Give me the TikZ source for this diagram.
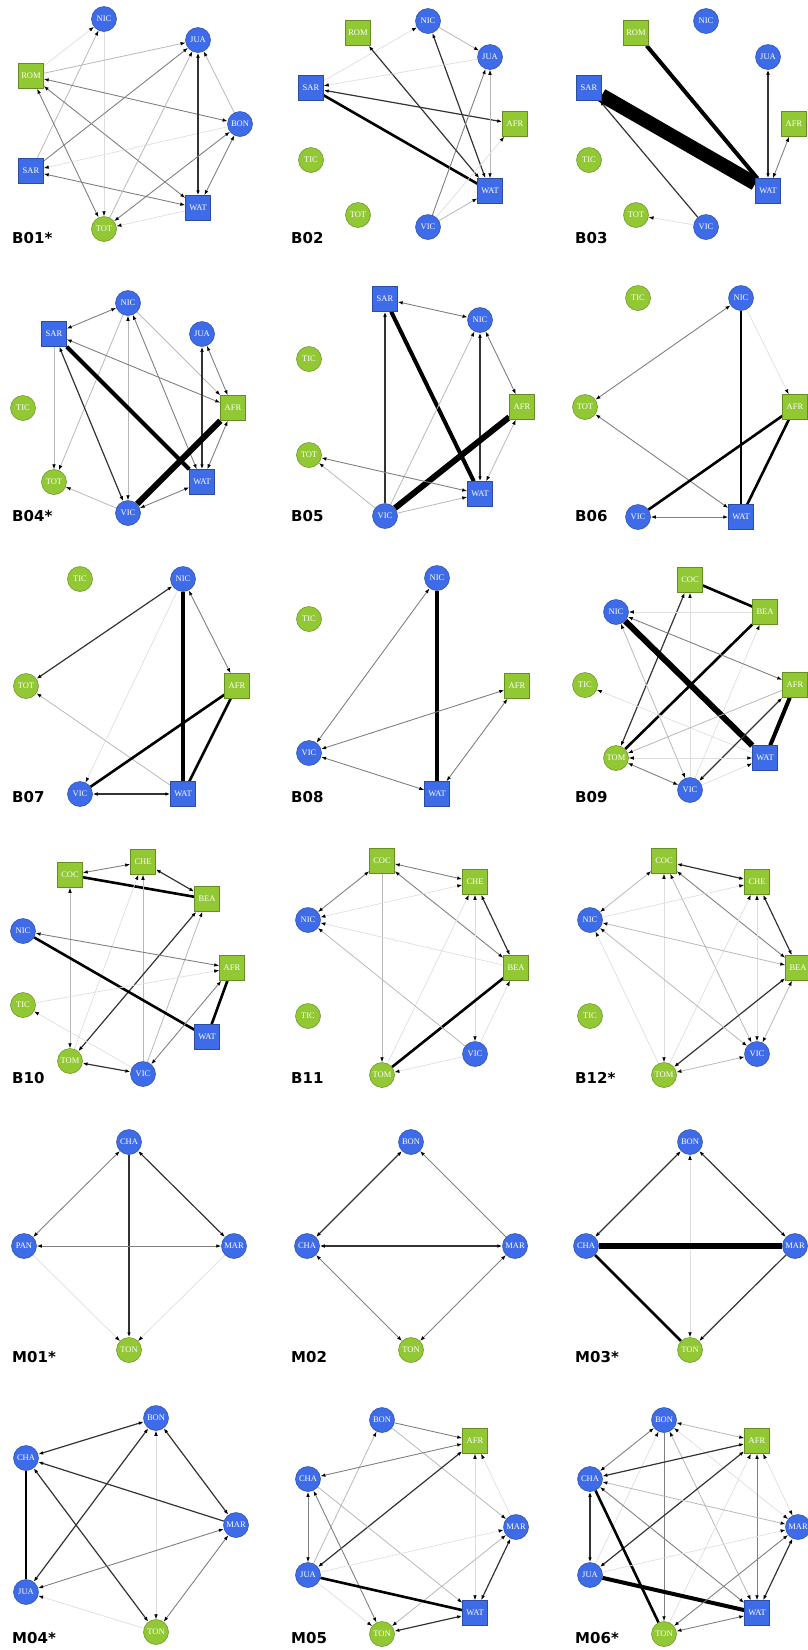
\documentclass[tikz,border=0pt]{standalone}
\usepackage{fontspec}
\newfontfamily\nodefont{Liberation Serif}
\newfontfamily\labfont{DejaVu Sans}
\usetikzlibrary{arrows.meta,backgrounds}
\definecolor{nodeblue}{RGB}{62,108,232}
\definecolor{nodegreen}{RGB}{146,200,52}

\begin{document}
\begin{tikzpicture}[
  x=1pt, y=-1pt,
  >={Latex[length=5pt,width=3.6pt,color=black]},
  vtx/.style={minimum size=25pt, inner sep=0pt, text=white, line width=0.5pt, font=\nodefont\fontsize{8.5}{9}\selectfont},
  bluc/.style={vtx, circle, fill=nodeblue, draw=nodeblue!70!black},
  grnc/.style={vtx, circle, fill=nodegreen, draw=nodegreen!70!black},
  blus/.style={vtx, rectangle, fill=nodeblue, draw=nodeblue!70!black},
  grns/.style={vtx, rectangle, fill=nodegreen, draw=nodegreen!70!black},
  lab/.style={anchor=west, inner sep=0pt, font=\labfont\bfseries\fontsize{15}{15}\selectfont},
  e0/.style={draw=black!13, line width=0.7pt},
  e1/.style={draw=black!28, line width=0.8pt},
  e2/.style={draw=black!50, line width=0.9pt},
  e3/.style={draw=black!80, line width=1.2pt},
  e4/.style={draw=black, line width=2.6pt},
  e5/.style={draw=black, line width=4pt},
  e6/.style={draw=black, line width=6pt},
  e7/.style={draw=black, line width=14pt},
]
  \useasboundingbox (0,0) rectangle (807,1650);

  % Panel labels
  \node[lab] (t01) at (12,238) {B01*};
  \node[lab] (t02) at (291,238) {B02};
  \node[lab] (t03) at (575,238) {B03};
  \node[lab] (t04) at (12,516) {B04*};
  \node[lab] (t05) at (291,516) {B05};
  \node[lab] (t06) at (575,516) {B06};
  \node[lab] (t07) at (12,797) {B07};
  \node[lab] (t08) at (291,797) {B08};
  \node[lab] (t09) at (575,797) {B09};
  \node[lab] (t10) at (12,1078) {B10};
  \node[lab] (t11) at (291,1078) {B11};
  \node[lab] (t12) at (575,1078) {B12*};
  \node[lab] (t13) at (12,1357) {M01*};
  \node[lab] (t14) at (291,1357) {M02};
  \node[lab] (t15) at (575,1357) {M03*};
  \node[lab] (t16) at (12,1638) {M04*};
  \node[lab] (t17) at (291,1638) {M05};
  \node[lab] (t18) at (575,1638) {M06*};

  % B01
  \node[bluc] (b01nic) at (104,19) {NIC};
  \node[bluc] (b01jua) at (198,40) {JUA};
  \node[grns] (b01rom) at (31,76) {ROM};
  \node[bluc] (b01bon) at (240,124) {BON};
  \node[blus] (b01sar) at (31,171) {SAR};
  \node[blus] (b01wat) at (198,208) {WAT};
  \node[grnc] (b01tot) at (104,229) {TOT};
  % B02
  \node[grns] (b02rom) at (358,33) {ROM};
  \node[bluc] (b02nic) at (428,21) {NIC};
  \node[bluc] (b02jua) at (490,57) {JUA};
  \node[blus] (b02sar) at (311,88) {SAR};
  \node[grns] (b02afr) at (515,124) {AFR};
  \node[grnc] (b02tic) at (311,160) {TIC};
  \node[grnc] (b02tot) at (358,215) {TOT};
  \node[bluc] (b02vic) at (428,227) {VIC};
  \node[blus] (b02wat) at (490,191) {WAT};
  % B03
  \node[grns] (b03rom) at (636,33) {ROM};
  \node[bluc] (b03nic) at (706,21) {NIC};
  \node[bluc] (b03jua) at (768,57) {JUA};
  \node[blus] (b03sar) at (589,88) {SAR};
  \node[grns] (b03afr) at (794,124) {AFR};
  \node[grnc] (b03tic) at (589,160) {TIC};
  \node[grnc] (b03tot) at (636,215) {TOT};
  \node[bluc] (b03vic) at (706,227) {VIC};
  \node[blus] (b03wat) at (768,191) {WAT};
  % B04
  \node[bluc] (b04nic) at (128,303) {NIC};
  \node[blus] (b04sar) at (54,334) {SAR};
  \node[bluc] (b04jua) at (202,334) {JUA};
  \node[grnc] (b04tic) at (23,408) {TIC};
  \node[grns] (b04afr) at (233,408) {AFR};
  \node[grnc] (b04tot) at (54,482) {TOT};
  \node[blus] (b04wat) at (202,482) {WAT};
  \node[bluc] (b04vic) at (128,513) {VIC};
  % B05
  \node[blus] (b05sar) at (385,299) {SAR};
  \node[bluc] (b05nic) at (480,320) {NIC};
  \node[grnc] (b05tic) at (309,359) {TIC};
  \node[grns] (b05afr) at (522,407) {AFR};
  \node[grnc] (b05tot) at (309,455) {TOT};
  \node[blus] (b05wat) at (480,494) {WAT};
  \node[bluc] (b05vic) at (385,516) {VIC};
  % B06
  \node[grnc] (b06tic) at (638,298) {TIC};
  \node[bluc] (b06nic) at (741,298) {NIC};
  \node[grnc] (b06tot) at (585,407) {TOT};
  \node[grns] (b06afr) at (795,407) {AFR};
  \node[bluc] (b06vic) at (638,517) {VIC};
  \node[blus] (b06wat) at (741,517) {WAT};
  % B07
  \node[grnc] (b07tic) at (80,579) {TIC};
  \node[bluc] (b07nic) at (183,579) {NIC};
  \node[grnc] (b07tot) at (26,686) {TOT};
  \node[grns] (b07afr) at (237,686) {AFR};
  \node[bluc] (b07vic) at (80,794) {VIC};
  \node[blus] (b07wat) at (183,794) {WAT};
  % B08
  \node[bluc] (b08nic) at (437,578) {NIC};
  \node[grnc] (b08tic) at (309,619) {TIC};
  \node[grns] (b08afr) at (517,686) {AFR};
  \node[bluc] (b08vic) at (309,753) {VIC};
  \node[blus] (b08wat) at (437,794) {WAT};
  % B09
  \node[grns] (b09coc) at (690,580) {COC};
  \node[grns] (b09bea) at (765,612) {BEA};
  \node[bluc] (b09nic) at (616,612) {NIC};
  \node[grnc] (b09tic) at (585,685) {TIC};
  \node[grns] (b09afr) at (795,685) {AFR};
  \node[grnc] (b09tom) at (616,758) {TOM};
  \node[blus] (b09wat) at (765,758) {WAT};
  \node[bluc] (b09vic) at (690,790) {VIC};
  % B10
  \node[grns] (b10che) at (143,862) {CHE};
  \node[grns] (b10coc) at (70,875) {COC};
  \node[grns] (b10bea) at (207,899) {BEA};
  \node[bluc] (b10nic) at (23,931) {NIC};
  \node[grns] (b10afr) at (232,968) {AFR};
  \node[grnc] (b10tic) at (23,1005) {TIC};
  \node[blus] (b10wat) at (207,1037) {WAT};
  \node[grnc] (b10tom) at (70,1061) {TOM};
  \node[bluc] (b10vic) at (143,1074) {VIC};
  % B11
  \node[grns] (b11coc) at (382,861) {COC};
  \node[grns] (b11che) at (475,882) {CHE};
  \node[bluc] (b11nic) at (308,920) {NIC};
  \node[grns] (b11bea) at (516,968) {BEA};
  \node[grnc] (b11tic) at (308,1016) {TIC};
  \node[bluc] (b11vic) at (475,1054) {VIC};
  \node[grnc] (b11tom) at (382,1075) {TOM};
  % B12
  \node[grns] (b12coc) at (664,861) {COC};
  \node[grns] (b12che) at (757,882) {CHE};
  \node[bluc] (b12nic) at (590,920) {NIC};
  \node[grns] (b12bea) at (798,968) {BEA};
  \node[grnc] (b12tic) at (590,1016) {TIC};
  \node[bluc] (b12vic) at (757,1054) {VIC};
  \node[grnc] (b12tom) at (664,1075) {TOM};
  % M01
  \node[bluc] (m01cha) at (129,1142) {CHA};
  \node[bluc] (m01pan) at (24,1246) {PAN};
  \node[bluc] (m01mar) at (234,1246) {MAR};
  \node[grnc] (m01ton) at (129,1350) {TON};
  % M02
  \node[bluc] (m02bon) at (411,1142) {BON};
  \node[bluc] (m02cha) at (307,1246) {CHA};
  \node[bluc] (m02mar) at (515,1246) {MAR};
  \node[grnc] (m02ton) at (411,1350) {TON};
  % M03
  \node[bluc] (m03bon) at (690,1142) {BON};
  \node[bluc] (m03cha) at (586,1246) {CHA};
  \node[bluc] (m03mar) at (795,1246) {MAR};
  \node[grnc] (m03ton) at (690,1350) {TON};
  % M04
  \node[bluc] (m04bon) at (156,1418) {BON};
  \node[bluc] (m04cha) at (26,1458) {CHA};
  \node[bluc] (m04mar) at (236,1525) {MAR};
  \node[bluc] (m04jua) at (26,1592) {JUA};
  \node[grnc] (m04ton) at (156,1632) {TON};
  % M05
  \node[bluc] (m05bon) at (382,1420) {BON};
  \node[grns] (m05afr) at (475,1441) {AFR};
  \node[bluc] (m05cha) at (308,1479) {CHA};
  \node[bluc] (m05mar) at (516,1527) {MAR};
  \node[bluc] (m05jua) at (308,1575) {JUA};
  \node[blus] (m05wat) at (475,1613) {WAT};
  \node[grnc] (m05ton) at (382,1634) {TON};
  % M06
  \node[bluc] (m06bon) at (664,1420) {BON};
  \node[grns] (m06afr) at (757,1441) {AFR};
  \node[bluc] (m06cha) at (590,1479) {CHA};
  \node[bluc] (m06mar) at (798,1527) {MAR};
  \node[bluc] (m06jua) at (590,1575) {JUA};
  \node[blus] (m06wat) at (757,1613) {WAT};
  \node[grnc] (m06ton) at (664,1634) {TON};

  \begin{scope}[on background layer]
  % B01 edges
  \draw[e0,->] (b01rom) -- (b01nic);
  \draw[e1,->] (b01sar) -- (b01nic);
  \draw[e0,->] (b01nic) -- (b01tot);
  \draw[e1,->] (b01rom) -- (b01jua);
  \draw[e2,<->] (b01rom) -- (b01bon);
  \draw[e2,<->] (b01rom) -- (b01wat);
  \draw[e2,<->] (b01rom) -- (b01tot);
  \draw[e2,->] (b01sar) -- (b01jua);
  \draw[e2,<->] (b01sar) -- (b01wat);
  \draw[e0,->] (b01bon) -- (b01sar);
  \draw[e3,<->] (b01jua) -- (b01wat);
  \draw[e1,->] (b01bon) -- (b01jua);
  \draw[e1,->] (b01tot) -- (b01jua);
  \draw[e2,<->] (b01bon) -- (b01tot);
  \draw[e2,<->] (b01bon) -- (b01wat);
  \draw[e0,->] (b01wat) -- (b01tot);
  % B02 edges
  \draw[e0,->] (b02sar) -- (b02nic);
  \draw[e1,->] (b02nic) -- (b02jua);
  \draw[e3,<->] (b02rom) -- (b02wat);
  \draw[e3,<->] (b02nic) -- (b02wat);
  \draw[e0,->] (b02jua) -- (b02sar);
  \draw[e3,<->] (b02sar) -- (b02afr);
  \draw[e4] (b02sar) -- (b02wat);
  \draw[e1,<->] (b02jua) -- (b02wat);
  \draw[e2,->] (b02vic) -- (b02jua);
  \draw[e0,->] (b02vic) -- (b02afr);
  \draw[e1,->] (b02vic) -- (b02wat);
  % B03 edges
  \draw[e5] (b03rom) -- (b03wat);
  \draw[e7] (b03sar) -- (b03wat);
  \draw[e3,<->] (b03jua) -- (b03wat);
  \draw[e2,<->] (b03afr) -- (b03wat);
  \draw[e3,->] (b03vic) -- (b03sar);
  \draw[e0,->] (b03vic) -- (b03tot);
  % B04 edges
  \draw[e2,<->] (b04nic) -- (b04sar);
  \draw[e1,->] (b04nic) -- (b04tot);
  \draw[e1,<->] (b04nic) -- (b04vic);
  \draw[e2,<->] (b04nic) -- (b04wat);
  \draw[e1,->] (b04nic) -- (b04afr);
  \draw[e1,->] (b04sar) -- (b04tot);
  \draw[e3,<->] (b04sar) -- (b04vic);
  \draw[e5] (b04sar) -- (b04wat);
  \draw[e2,<->] (b04sar) -- (b04afr);
  \draw[e3,<->] (b04jua) -- (b04wat);
  \draw[e2,<->] (b04jua) -- (b04afr);
  \draw[e6] (b04afr) -- (b04vic);
  \draw[e2,<->] (b04afr) -- (b04wat);
  \draw[e2,<->] (b04vic) -- (b04wat);
  \draw[e1,->] (b04vic) -- (b04tot);
  % B05 edges
  \draw[e2,<->] (b05sar) -- (b05nic);
  \draw[e3,->] (b05vic) -- (b05sar);
  \draw[e5] (b05sar) -- (b05wat);
  \draw[e1,->] (b05vic) -- (b05nic);
  \draw[e3,<->] (b05nic) -- (b05wat);
  \draw[e2,<->] (b05nic) -- (b05afr);
  \draw[e6] (b05afr) -- (b05vic);
  \draw[e1,<->] (b05afr) -- (b05wat);
  \draw[e1,->] (b05vic) -- (b05tot);
  \draw[e2,<->] (b05wat) -- (b05tot);
  \draw[e1,->] (b05vic) -- (b05wat);
  % B06 edges
  \draw[e2,<->] (b06nic) -- (b06tot);
  \draw[e4] (b06nic) -- (b06wat);
  \draw[e0,->] (b06nic) -- (b06afr);
  \draw[e2,<->] (b06tot) -- (b06wat);
  \draw[e4] (b06afr) -- (b06vic);
  \draw[e4] (b06wat) -- (b06afr);
  \draw[e2,<->] (b06vic) -- (b06wat);
  % B07 edges
  \draw[e3,<->] (b07nic) -- (b07tot);
  \draw[e0,->] (b07nic) -- (b07vic);
  \draw[e5] (b07nic) -- (b07wat);
  \draw[e2,<->] (b07nic) -- (b07afr);
  \draw[e1,->] (b07wat) -- (b07tot);
  \draw[e4] (b07afr) -- (b07vic);
  \draw[e4] (b07afr) -- (b07wat);
  \draw[e3,<->] (b07vic) -- (b07wat);
  % B08 edges
  \draw[e2,<->] (b08vic) -- (b08nic);
  \draw[e5] (b08nic) -- (b08wat);
  \draw[e2,<->] (b08afr) -- (b08vic);
  \draw[e2,<->] (b08afr) -- (b08wat);
  \draw[e2,<->] (b08vic) -- (b08wat);
  % B09 edges
  \draw[e4] (b09coc) -- (b09bea);
  \draw[e3,<->] (b09coc) -- (b09tom);
  \draw[e0,->] (b09vic) -- (b09coc);
  \draw[e0,->] (b09bea) -- (b09nic);
  \draw[e4] (b09bea) -- (b09tom);
  \draw[e0,->] (b09vic) -- (b09bea);
  \draw[e6] (b09nic) -- (b09wat);
  \draw[e2,<->] (b09nic) -- (b09afr);
  \draw[e1,<->] (b09nic) -- (b09vic);
  \draw[e0,->] (b09wat) -- (b09tic);
  \draw[e1,->] (b09afr) -- (b09tom);
  \draw[e3,<->] (b09afr) -- (b09vic);
  \draw[e5] (b09afr) -- (b09wat);
  \draw[e0,<->] (b09tom) -- (b09wat);
  \draw[e2,<->] (b09tom) -- (b09vic);
  \draw[e0,->] (b09vic) -- (b09wat);
  % B10 edges
  \draw[e2,<->] (b10coc) -- (b10che);
  \draw[e4] (b10bea) -- (b10coc);
  \draw[e1,<->] (b10coc) -- (b10tom);
  \draw[e3,<->] (b10che) -- (b10bea);
  \draw[e0,->] (b10tom) -- (b10che);
  \draw[e1,->] (b10vic) -- (b10che);
  \draw[e3,<->] (b10bea) -- (b10tom);
  \draw[e1,->] (b10vic) -- (b10bea);
  \draw[e2,<->] (b10nic) -- (b10afr);
  \draw[e4] (b10nic) -- (b10wat);
  \draw[e0,->] (b10tic) -- (b10afr);
  \draw[e0,->] (b10vic) -- (b10tic);
  \draw[e4] (b10wat) -- (b10afr);
  \draw[e2,<->] (b10afr) -- (b10vic);
  \draw[e3,<->] (b10tom) -- (b10vic);
  % B11 edges
  \draw[e2,<->] (b11coc) -- (b11nic);
  \draw[e2,<->] (b11coc) -- (b11che);
  \draw[e2,<->] (b11coc) -- (b11bea);
  \draw[e1,->] (b11coc) -- (b11tom);
  \draw[e0,<->] (b11nic) -- (b11che);
  \draw[e3,<->] (b11che) -- (b11bea);
  \draw[e0,->] (b11tom) -- (b11che);
  \draw[e0,<->] (b11che) -- (b11vic);
  \draw[e0,->] (b11bea) -- (b11nic);
  \draw[e4] (b11bea) -- (b11tom);
  \draw[e0,->] (b11vic) -- (b11bea);
  \draw[e1,->] (b11vic) -- (b11nic);
  \draw[e0,->] (b11vic) -- (b11tom);
  % B12 edges
  \draw[e1,<->] (b12coc) -- (b12nic);
  \draw[e3,<->] (b12coc) -- (b12che);
  \draw[e2,<->] (b12coc) -- (b12bea);
  \draw[e0,<->] (b12coc) -- (b12tom);
  \draw[e1,<->] (b12coc) -- (b12vic);
  \draw[e0,->] (b12nic) -- (b12che);
  \draw[e3,<->] (b12che) -- (b12bea);
  \draw[e0,->] (b12tom) -- (b12che);
  \draw[e0,<->] (b12che) -- (b12vic);
  \draw[e1,<->] (b12bea) -- (b12nic);
  \draw[e3,<->] (b12bea) -- (b12tom);
  \draw[e1,<->] (b12bea) -- (b12vic);
  \draw[e1,<->] (b12nic) -- (b12vic);
  \draw[e0,->] (b12tom) -- (b12nic);
  \draw[e1,<->] (b12tom) -- (b12vic);
  % M01 edges
  \draw[e2,<->] (m01cha) -- (m01pan);
  \draw[e3,<->] (m01cha) -- (m01mar);
  \draw[e3,->] (m01cha) -- (m01ton);
  \draw[e2,<->] (m01pan) -- (m01mar);
  \draw[e0,->] (m01pan) -- (m01ton);
  \draw[e0,->] (m01mar) -- (m01ton);
  % M02 edges
  \draw[e3,<->] (m02bon) -- (m02cha);
  \draw[e2,->] (m02mar) -- (m02bon);
  \draw[e3,<->] (m02cha) -- (m02mar);
  \draw[e2,<->] (m02cha) -- (m02ton);
  \draw[e2,<->] (m02mar) -- (m02ton);
  % M03 edges
  \draw[e3,<->] (m03bon) -- (m03cha);
  \draw[e3,<->] (m03bon) -- (m03mar);
  \draw[e0,<->] (m03bon) -- (m03ton);
  \draw[e6] (m03cha) -- (m03mar);
  \draw[e4] (m03cha) -- (m03ton);
  \draw[e3,->] (m03mar) -- (m03ton);
  % M04 edges
  \draw[e3,<->] (m04bon) -- (m04cha);
  \draw[e3,<->] (m04bon) -- (m04mar);
  \draw[e3,<->] (m04bon) -- (m04jua);
  \draw[e0,<->] (m04bon) -- (m04ton);
  \draw[e3,->] (m04mar) -- (m04cha);
  \draw[e4] (m04jua) -- (m04cha);
  \draw[e3,<->] (m04cha) -- (m04ton);
  \draw[e2,<->] (m04mar) -- (m04jua);
  \draw[e2,<->] (m04mar) -- (m04ton);
  \draw[e0,->] (m04ton) -- (m04jua);
  % M05 edges
  \draw[e2,->] (m05bon) -- (m05afr);
  \draw[e1,->] (m05jua) -- (m05bon);
  \draw[e1,->] (m05bon) -- (m05mar);
  \draw[e2,<->] (m05afr) -- (m05cha);
  \draw[e3,<->] (m05afr) -- (m05jua);
  \draw[e0,<->] (m05afr) -- (m05wat);
  \draw[e0,->] (m05mar) -- (m05afr);
  \draw[e2,<->] (m05cha) -- (m05jua);
  \draw[e1,->] (m05cha) -- (m05wat);
  \draw[e2,<->] (m05cha) -- (m05ton);
  \draw[e0,->] (m05jua) -- (m05mar);
  \draw[e3,<->] (m05mar) -- (m05wat);
  \draw[e1,<->] (m05mar) -- (m05ton);
  \draw[e4] (m05wat) -- (m05jua);
  \draw[e0,->] (m05jua) -- (m05ton);
  \draw[e3,<->] (m05ton) -- (m05wat);
  % M06 edges
  \draw[e2,<->] (m06bon) -- (m06cha);
  \draw[e1,<->] (m06bon) -- (m06afr);
  \draw[e2,->] (m06bon) -- (m06ton);
  \draw[e1,<->] (m06bon) -- (m06wat);
  \draw[e0,->] (m06jua) -- (m06bon);
  \draw[e0,<->] (m06bon) -- (m06mar);
  \draw[e3,<->] (m06afr) -- (m06cha);
  \draw[e3,<->] (m06afr) -- (m06jua);
  \draw[e2,<->] (m06afr) -- (m06wat);
  \draw[e0,<->] (m06afr) -- (m06mar);
  \draw[e0,->] (m06ton) -- (m06afr);
  \draw[e3,<->] (m06cha) -- (m06jua);
  \draw[e4] (m06cha) -- (m06ton);
  \draw[e2,<->] (m06cha) -- (m06wat);
  \draw[e1,<->] (m06cha) -- (m06mar);
  \draw[e5] (m06jua) -- (m06wat);
  \draw[e0,->] (m06jua) -- (m06mar);
  \draw[e2,<->] (m06mar) -- (m06ton);
  \draw[e3,<->] (m06mar) -- (m06wat);
  \draw[e2,<->] (m06ton) -- (m06wat);
  \end{scope}
\end{tikzpicture}
\end{document}
